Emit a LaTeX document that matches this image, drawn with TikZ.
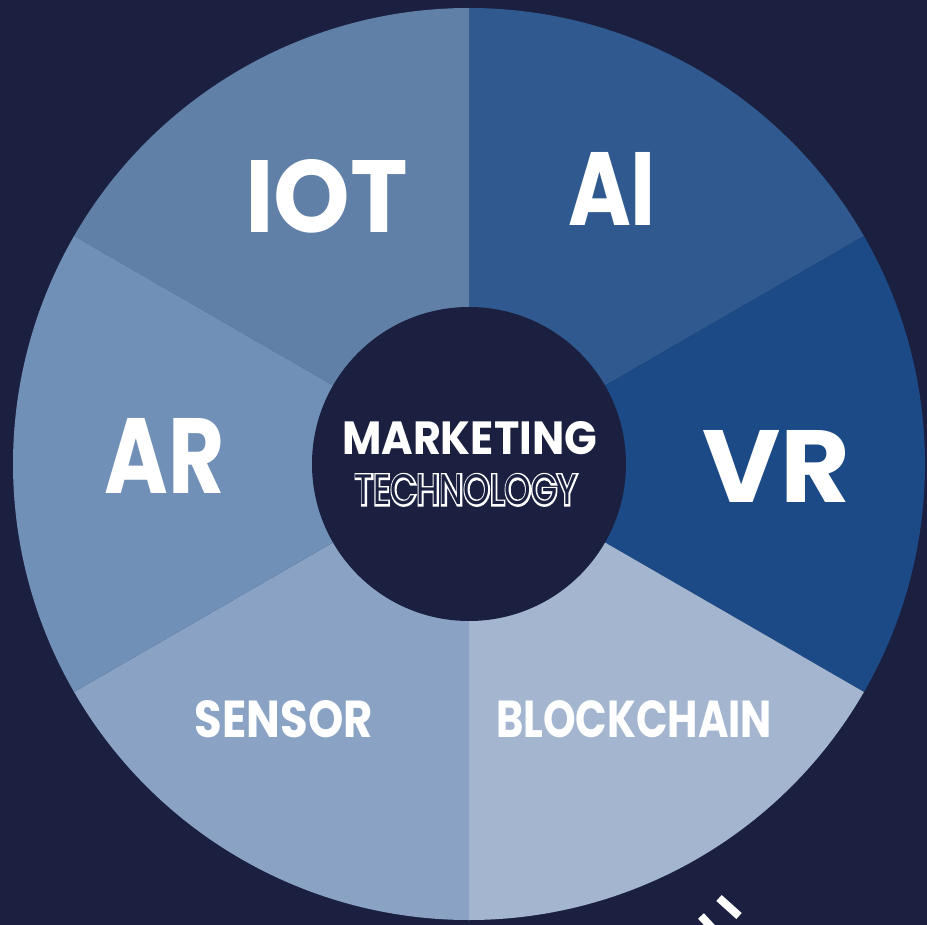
\documentclass[tikz,border=0pt]{standalone}
\usepackage{fontspec}
\setmainfont{Poppins}
\newfontfamily\popthick{Poppins}[FakeBold=9]
\usepackage{graphicx}
\definecolor{navybg}{HTML}{1B2040}
\definecolor{secIOT}{HTML}{6080A8}
\definecolor{secAI}{HTML}{305A8F}
\definecolor{secVR}{HTML}{1C4A86}
\definecolor{secBC}{HTML}{A4B6CF}
\definecolor{secSEN}{HTML}{8AA3C4}
\definecolor{secAR}{HTML}{7090B8}
% outlined lettering: a thickened white copy under the dark glyphs
\newcommand\outlinetext[1]{%
  \rlap{\textcolor{white}{\popthick #1}}\textcolor{navybg}{#1}}
\begin{document}
\begin{tikzpicture}[x=1bp,y=1bp,
  lbl/.style={anchor=south west, inner sep=0pt, outer sep=0pt, text=white, font=\bfseries},
  hubdisc/.style={circle, fill=navybg, minimum size=314bp, inner sep=0pt}]
\useasboundingbox (-469,-461) rectangle (458,464);
\clip (-469,-461) rectangle (458,464);
\fill[navybg] (-469,-461) rectangle (458,464);
% six equal wedges of the wheel
\def\R{456}
\foreach \a/\b/\c in {90/150/secIOT, 30/90/secAI, -30/30/secVR,
                      -90/-30/secBC, -150/-90/secSEN, 150/210/secAR}
  \fill[\c] (0,0) -- (\a:\R) arc[start angle=\a, end angle=\b, radius=\R] -- cycle;
% central disc
\node[hubdisc] (hub) at (0,0) {};
% wedge labels
\node[lbl] (iot) at (-224,231) {\resizebox{163bp}{73bp}{IOT}};
\node[lbl] (ai)  at (99,239)   {\resizebox{88bp}{73bp}{AI}};
\node[lbl] (ar)  at (-364,-29) {\resizebox{120bp}{75bp}{AR}};
\node[lbl] (vr)  at (233,-38)  {\resizebox{148bp}{72bp}{VR}};
\node[lbl] (sensor) at (-274,-274) {\resizebox{178bp}{37bp}{SENSOR}};
\node[lbl] (blockchain) at (27,-274) {\resizebox{276bp}{37bp}{BLOCKCHAIN}};
% centre title
\node[lbl] (marketing) at (-127,9) {\resizebox{255bp}{33bp}{MARKETING}};
\node[lbl, font=\mdseries] (technology) at (-114,-41)
  {\resizebox{222bp}{30bp}{\outlinetext{TECHNOLOGY}}};
% white strokes at the lower edge
\draw[white, line width=8bp] (250,-434) -- (270,-452);
\draw[white, line width=8bp] (232,-452) -- (245,-466);
\end{tikzpicture}
\end{document}
